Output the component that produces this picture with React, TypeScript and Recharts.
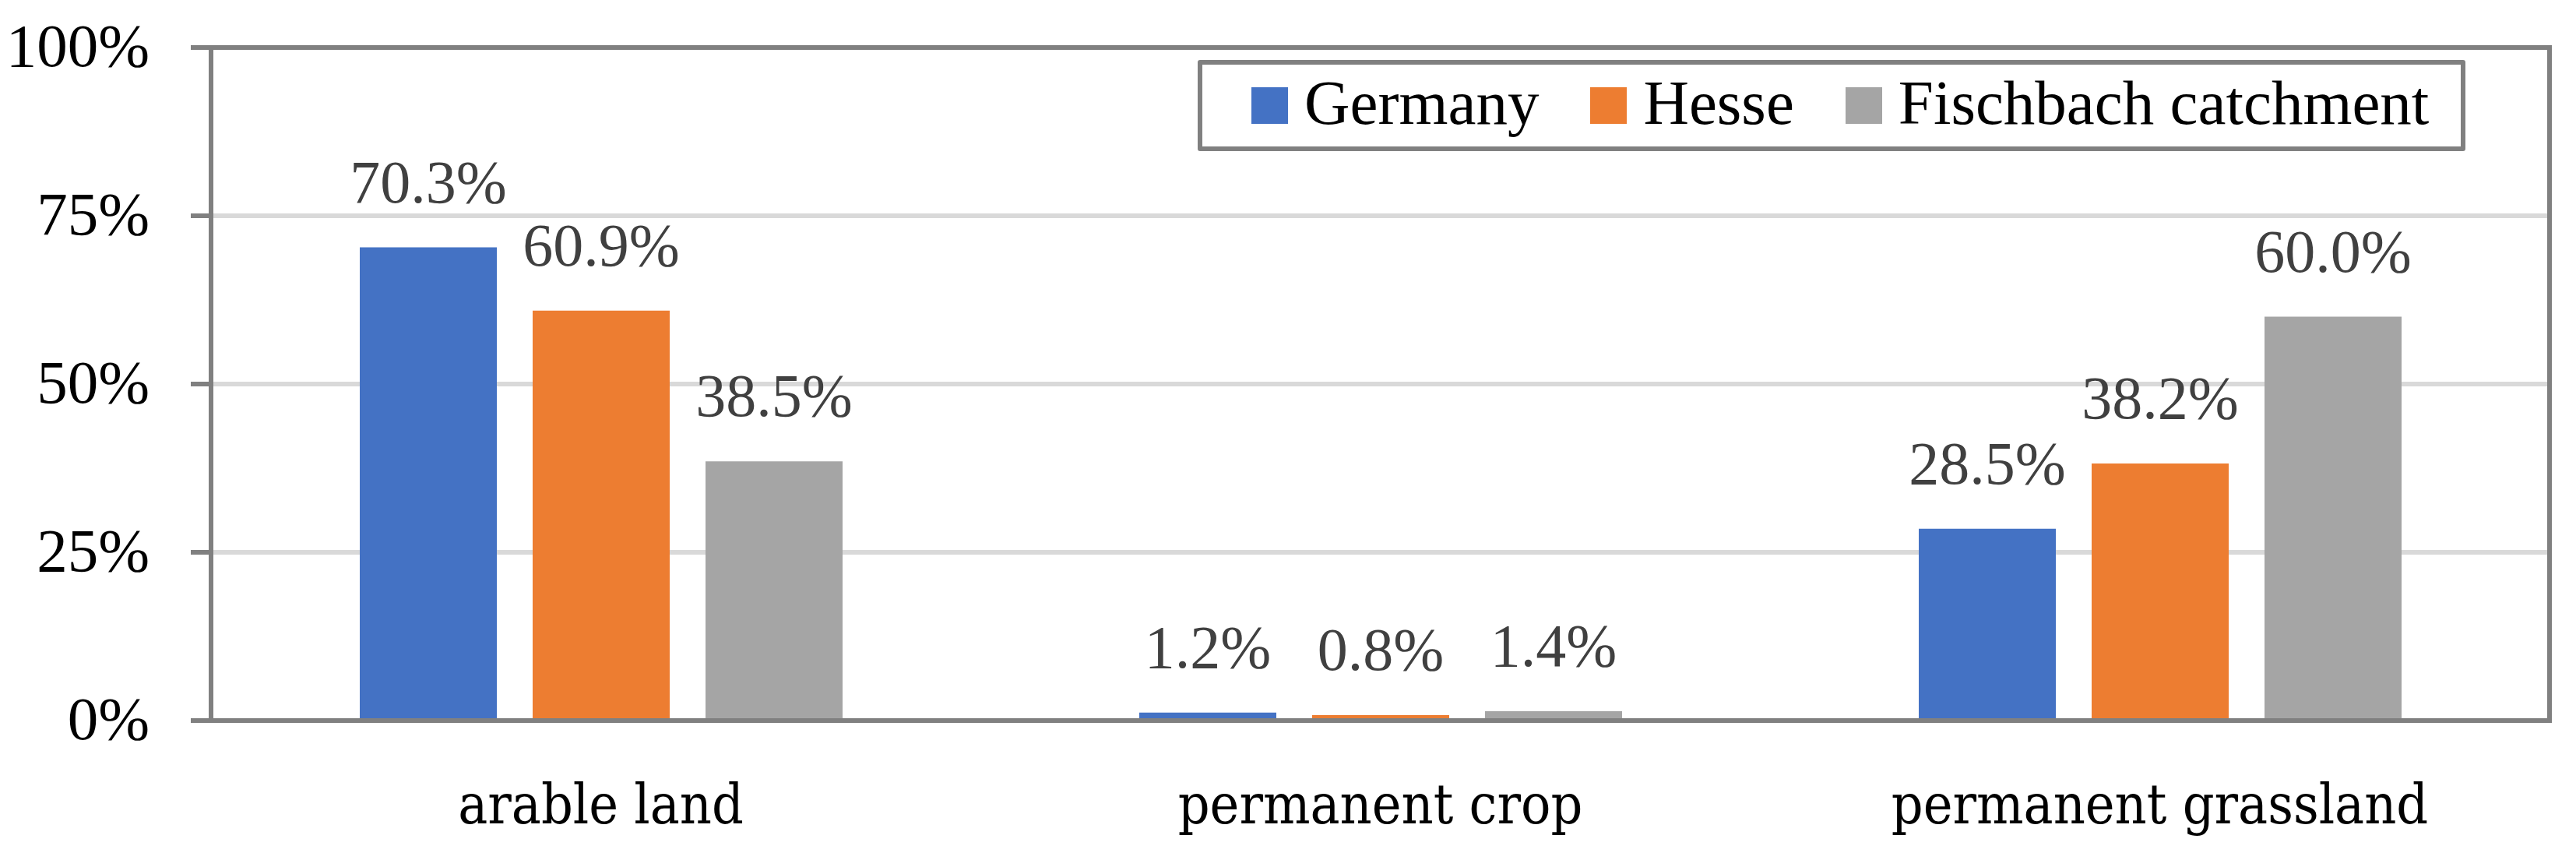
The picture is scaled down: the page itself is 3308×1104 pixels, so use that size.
import { Bar, BarChart, CartesianGrid, LabelList, ReferenceArea, XAxis, YAxis } from 'recharts'

const categories = ['arable land', 'permanent crop', 'permanent grassland']
const germany = [70.3, 1.2, 28.5]
const hesse = [60.9, 0.8, 38.2]
const fischbach = [38.5, 1.4, 60.0]
const yTicks = [0, 25, 50, 75, 100]

const SERIES = [
  { key: 'germany', name: 'Germany', color: '#4472C4' },
  { key: 'hesse', name: 'Hesse', color: '#ED7D31' },
  { key: 'fischbach', name: 'Fischbach catchment', color: '#A5A5A5' },
]

const data = categories.map((cat, i) => ({
  cat,
  germany: germany[i],
  hesse: hesse[i],
  fischbach: fischbach[i],
}))

const TIMES = "'Liberation Serif', 'Times New Roman', serif"
const BOOK = "'DejaVu Serif Condensed', 'DejaVu Serif', serif"
const AXIS_GRAY = '#808080'

function YTick({ x, y, payload }: any) {
  return (
    <text x={x} y={y + 24} textAnchor="end" fontFamily={TIMES} fontSize={79} fill="#000">
      {payload.value}%
    </text>
  )
}

function XTick({ x, y, payload }: any) {
  return (
    <text
      x={x}
      y={y + 132}
      textAnchor="middle"
      fontFamily={BOOK}
      fontSize={71}
      style={{ fontStretch: 'condensed' }}
      fill="#000"
    >
      {payload.value}
    </text>
  )
}

function ValueLabel({ x, y, width, value }: any) {
  return (
    <text x={x + width / 2} y={y - 58} textAnchor="middle" fontFamily={TIMES} fontSize={78} fill="#404040">
      {Number(value).toFixed(1)}%
    </text>
  )
}

// legend box sits inside the plot, top right, like the Excel original
function LegendBox() {
  return (
    <div
      style={{
        position: 'absolute',
        left: 1538,
        top: 77,
        boxSizing: 'border-box',
        width: 1628,
        height: 117,
        border: `6px solid ${AXIS_GRAY}`,
        borderRadius: 3,
        background: '#fff',
        display: 'flex',
        alignItems: 'center',
        paddingLeft: 63,
        fontFamily: TIMES,
        fontSize: 81,
        lineHeight: 1,
        color: '#000',
        whiteSpace: 'nowrap',
      }}
    >
      {SERIES.map((s) => (
        <div key={s.key} style={{ display: 'flex', alignItems: 'center', marginRight: 66 }}>
          <span style={{ width: 47, height: 47, background: s.color, marginRight: 21, display: 'inline-block' }} />
          <span style={{ position: 'relative', top: -3 }}>{s.name}</span>
        </div>
      ))}
    </div>
  )
}

export default function App() {
  return (
    <div style={{ position: 'fixed', left: 0, top: 0, width: 3308, height: 1104, background: '#fff' }}>
      <BarChart
        width={3308}
        height={1104}
        data={data}
        margin={{ top: 61, right: 34, bottom: 0, left: 0 }}
        barSize={176}
        barGap={46}
      >
        <CartesianGrid vertical={false} stroke="#d9d9d9" strokeWidth={6} />
        <XAxis
          dataKey="cat"
          height={179}
          tickLine={false}
          tickSize={0}
          tickMargin={0}
          axisLine={{ stroke: AXIS_GRAY, strokeWidth: 6 }}
          tick={<XTick />}
        />
        <YAxis
          width={271}
          domain={[0, 100]}
          ticks={yTicks}
          interval={0}
          tickSize={26}
          tickMargin={53}
          tickLine={{ stroke: AXIS_GRAY, strokeWidth: 6 }}
          axisLine={{ stroke: AXIS_GRAY, strokeWidth: 6 }}
          tick={<YTick />}
        />
        {SERIES.map((s) => (
          <Bar key={s.key} dataKey={s.key} name={s.name} fill={s.color} isAnimationActive={false}>
            <LabelList dataKey={s.key} content={<ValueLabel />} />
          </Bar>
        ))}
        <ReferenceArea y1={0} y2={100} fill="none" stroke={AXIS_GRAY} strokeWidth={6} ifOverflow="visible" />
      </BarChart>
      <LegendBox />
    </div>
  )
}
